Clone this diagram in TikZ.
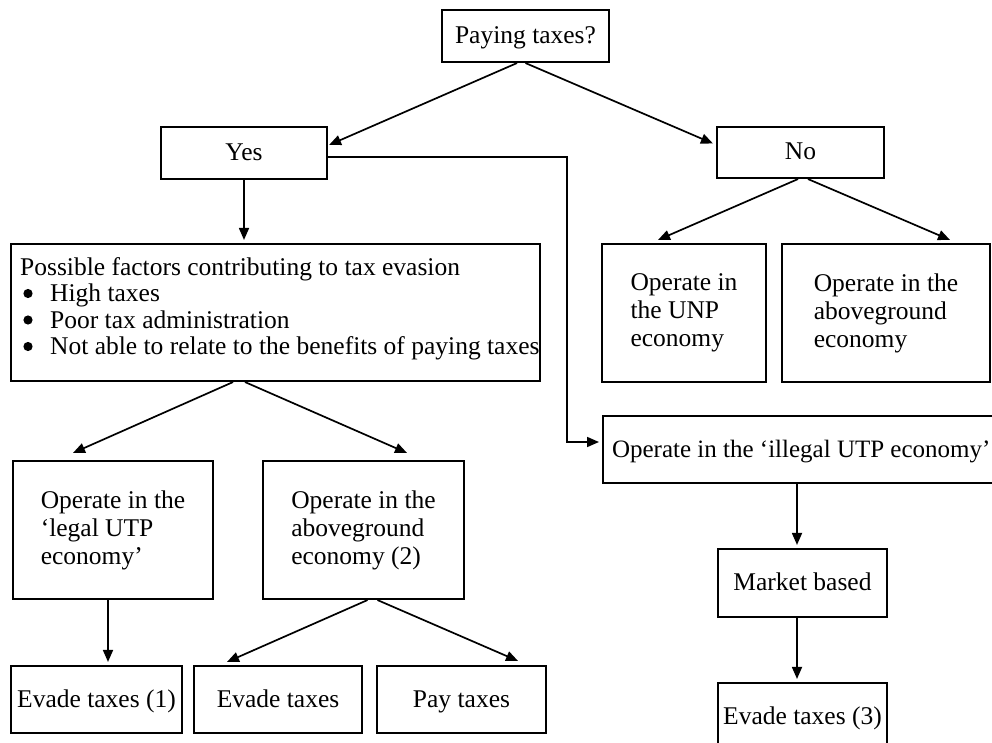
\documentclass[tikz,border=0pt]{standalone}
\usepackage{fontspec}
\setmainfont{Liberation Serif}
\usetikzlibrary{arrows.meta,calc}
\begin{document}
\begin{tikzpicture}[x=1pt,y=-1pt,
  box/.style={draw,line width=2.1pt,inner sep=0pt,align=left,font=\fontsize{25.5}{28}\selectfont},
  sbox/.style={draw,line width=2.1pt,inner sep=0pt,text height=18pt,text depth=3pt,font=\fontsize{25.5}{28}\selectfont},
  txt/.style={inner sep=0pt,align=left,font=\fontsize{25.5}{26.5}\selectfont},
  arr/.style={line width=1.7pt,-{Triangle[length=12pt,width=10pt]}},
  dot/.style={fill=black},
]
\useasboundingbox (0,0) rectangle (992,743);
\clip (0,0) rectangle (992,743);
% top level
\node[sbox,minimum width=167pt,minimum height=52pt] (pay) at (525.5,36) {Paying taxes?};
\node[sbox,minimum width=166pt,minimum height=52pt] (yes) at (244,153) {Yes};
\node[sbox,minimum width=167pt,minimum height=51pt] (no) at (800.5,152.5) {No};
% factors box
\node[draw,line width=2.1pt,minimum width=529pt,minimum height=137pt,inner sep=0pt] (factors) at (275.5,312.5) {};
\node[txt,anchor=north west] (factorstext) at (20,257) {Possible factors contributing to tax evasion\\
\hspace*{30pt}High taxes\\
\hspace*{30pt}Poor tax administration\\
\hspace*{30pt}Not able to relate to the benefits of paying taxes};
\fill[dot] (28,293.5) circle (4.6);
\fill[dot] (28,320) circle (4.6);
\fill[dot] (28,346.5) circle (4.6);
% right side
\node[box,minimum width=164pt,minimum height=138pt] (unp) at (684,313) {Operate in\\the UNP\\economy};
\node[box,minimum width=208pt,minimum height=138pt] (above) at (886,313) {Operate in the\\aboveground\\economy};
\node[sbox,anchor=west,inner xsep=9pt,minimum height=67pt,font=\fontsize{25}{28}\selectfont] (illegal) at (602,449.5) {Operate in the ‘illegal UTP economy’};
\node[sbox,minimum width=169pt,minimum height=68pt] (market) at (802.5,583) {Market based};
\node[sbox,minimum width=169pt,minimum height=67pt] (ev3) at (802.5,716.5) {Evade taxes (3)};
% left side
\node[box,minimum width=200pt,minimum height=138pt] (legal) at (113,530) {Operate in the\\‘legal UTP\\economy’};
\node[box,minimum width=201pt,minimum height=138pt] (above2) at (363.5,530) {Operate in the\\aboveground\\economy (2)};
\node[sbox,minimum width=171pt,minimum height=67pt] (ev1) at (96.5,699.5) {Evade taxes (1)};
\node[sbox,minimum width=168pt,minimum height=67pt] (ev) at (278,699.5) {Evade taxes};
\node[sbox,minimum width=169pt,minimum height=67pt] (payt) at (461.5,699.5) {Pay taxes};
% connectors
\draw[arr] ($(pay.south)+(-8.5,0)$) -- ($(yes.east)+(1,-8)$);
\draw[arr] (pay.south) -- ($(no.west)+(-3,-9)$);
\draw[arr,shorten >=3pt] (yes.south) -- (yes.south |- factors.north);
\coordinate (ent) at ($(illegal.west)+(0,-7.5)$);
\coordinate (elbow) at ($(ent)+(-35,0)$);
\draw[arr,shorten >=3pt] ($(yes.east)+(0,4)$) -| (elbow) -- (ent);
\draw[arr] ($(no.south)+(-2.5,0)$) -- ($(unp.north)+(-26,-3)$);
\draw[arr] ($(no.south)+(7.5,0)$) -- ($(above.north)+(64,-3)$);
\draw[arr] ($(factors.south)+(-42.5,0)$) -- ($(legal.north)+(-40,-7)$);
\draw[arr] ($(factors.south)+(-30.5,0)$) -- ($(above2.north)+(43.5,-7)$);
\coordinate (l1) at ($(legal.south)+(-5,0)$);
\draw[arr,shorten >=3pt] (l1) -- (l1 |- ev1.north);
\draw[arr] ($(above2.south)+(4,0)$) -- ($(ev.north)+(-51,-3)$);
\draw[arr] ($(above2.south)+(14,0)$) -- ($(payt.north)+(56.5,-4)$);
\coordinate (m1) at ($(market.north)+(-5.5,0)$);
\draw[arr,shorten >=3pt] (m1 |- illegal.south) -- (m1);
\coordinate (m2) at ($(ev3.north)+(-5.5,0)$);
\draw[arr,shorten >=3pt] (m2 |- market.south) -- (m2);
\end{tikzpicture}
\end{document}
